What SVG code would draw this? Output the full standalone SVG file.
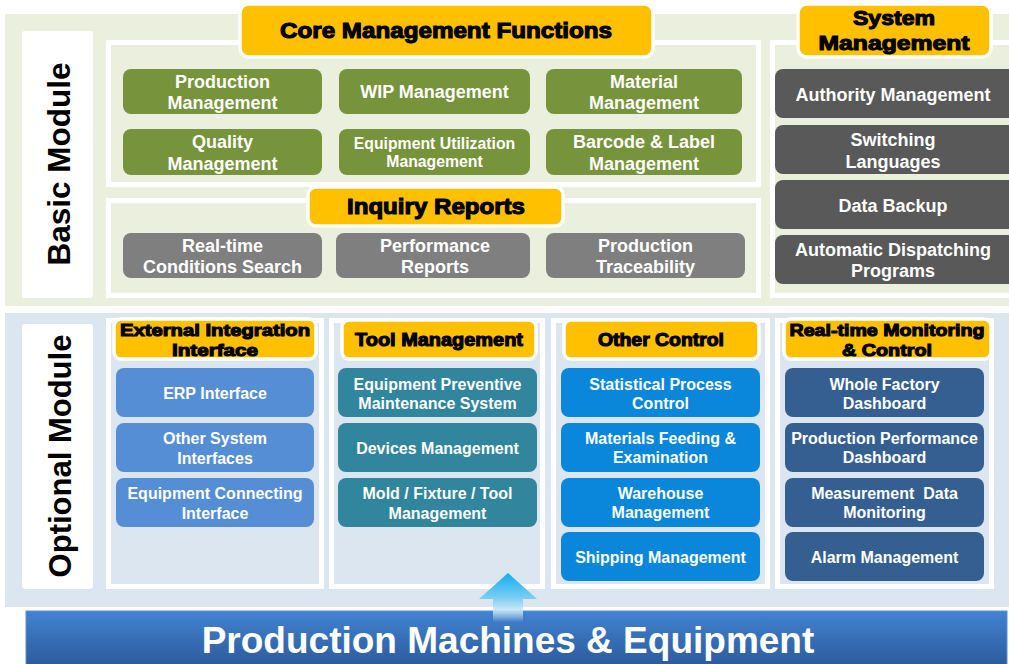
<svg xmlns="http://www.w3.org/2000/svg" width="1009" height="664" viewBox="0 0 1009 664">
<defs>
<linearGradient id="barGrad" x1="0" y1="0" x2="0" y2="1">
<stop offset="0" stop-color="#4283D2"/>
<stop offset="1" stop-color="#2B5A9B"/>
</linearGradient>
<linearGradient id="arrowGrad" x1="0" y1="573" x2="0" y2="622" gradientUnits="userSpaceOnUse">
<stop offset="0" stop-color="#0FB0EE"/>
<stop offset="0.5" stop-color="#7ACCF2"/>
<stop offset="0.8" stop-color="#CFE9F8" stop-opacity="0.8"/>
<stop offset="1" stop-color="#CFE9F8" stop-opacity="0"/>
</linearGradient>
</defs>
<style>
text{font-family:"Liberation Sans",Arial,Helvetica,sans-serif;font-weight:bold;text-anchor:middle}
.lbl{fill:#fff}
.f18{font-size:18px}
.f15{font-size:16px}
.f14{font-size:15.8px}
.hdr{fill:#000;stroke:#000;stroke-width:1.1;paint-order:stroke}
.orange{fill:#FFC000;stroke:#fff;stroke-width:3.5}
.gbox{fill:#77933C}
.grey{fill:#7F7F7F}
.dgrey{fill:#595959}
.c1{fill:#558ED5}
.c2{fill:#31859C}
.c3{fill:#0A87DA}
.c4{fill:#365F91}
.frameG{fill:#EBF0DE;stroke:#fff;stroke-width:5}
.frameB{fill:#DCE6F1;stroke:#fff;stroke-width:5}
.side{fill:#fff}
.rot{font-size:31px;fill:#000}
</style>

<!-- bands -->
<rect x="5" y="14" width="1004" height="292" fill="#EBF0DE"/>
<rect x="5" y="313" width="1004" height="294" fill="#DCE6F1"/>

<g id="basic-label">
<rect class="side" x="22" y="31" width="71" height="267" rx="3"/>
<text class="rot" transform="translate(70,164) rotate(-90)" textLength="203" lengthAdjust="spacingAndGlyphs">Basic Module</text>
</g>
<g id="optional-label">
<rect class="side" x="22" y="324" width="71" height="265" rx="3"/>
<text class="rot" transform="translate(70.5,456) rotate(-90)">Optional Module</text>
</g>

<!-- Core Management Functions -->
<g id="core-frame">
<rect class="frameG" x="108.5" y="42.5" width="650" height="142"/>
</g>
<g id="core-header">
<rect class="orange" x="240" y="4" width="413" height="53" rx="9"/>
<text class="hdr" x="446" y="38" font-size="22" textLength="332" lengthAdjust="spacingAndGlyphs">Core Management Functions</text>
</g>
<g id="production-management">
<rect class="gbox" x="123" y="69" width="199" height="45" rx="8"/>
<text class="lbl f18" x="222.5" y="88">Production</text>
<text class="lbl f18" x="222.5" y="109">Management</text>
</g>
<g id="wip-management">
<rect class="gbox" x="339" y="69" width="191" height="45" rx="8"/>
<text class="lbl f18" x="434.5" y="98">WIP Management</text>
</g>
<g id="material-management">
<rect class="gbox" x="546" y="69" width="196" height="45" rx="8"/>
<text class="lbl f18" x="644" y="88">Material</text>
<text class="lbl f18" x="644" y="109">Management</text>
</g>
<g id="quality-management">
<rect class="gbox" x="123" y="129" width="199" height="46" rx="8"/>
<text class="lbl f18" x="222.5" y="148">Quality</text>
<text class="lbl f18" x="222.5" y="170">Management</text>
</g>
<g id="equipment-utilization">
<rect class="gbox" x="339" y="129" width="191" height="46" rx="8"/>
<text class="lbl f14" x="434.5" y="149">Equipment Utilization</text>
<text class="lbl f14" x="434.5" y="167">Management</text>
</g>
<g id="barcode-label">
<rect class="gbox" x="546" y="129" width="196" height="46" rx="8"/>
<text class="lbl f18" x="644" y="148">Barcode &amp; Label</text>
<text class="lbl f18" x="644" y="170">Management</text>
</g>

<!-- Inquiry Reports -->
<g id="inquiry-frame">
<rect class="frameG" x="108.5" y="200.5" width="650" height="95"/>
</g>
<g id="inquiry-header">
<rect class="orange" x="308" y="187" width="255" height="39" rx="8"/>
<text class="hdr" x="436" y="214" font-size="22" textLength="178" lengthAdjust="spacingAndGlyphs">Inquiry Reports</text>
</g>
<g id="realtime-search">
<rect class="grey" x="123" y="233" width="199" height="45" rx="8"/>
<text class="lbl f18" x="222.5" y="252">Real-time</text>
<text class="lbl f18" x="222.5" y="273">Conditions Search</text>
</g>
<g id="performance-reports">
<rect class="grey" x="336" y="233" width="194" height="45" rx="8"/>
<text class="lbl f18" x="435" y="252">Performance</text>
<text class="lbl f18" x="435" y="273">Reports</text>
</g>
<g id="production-traceability">
<rect class="grey" x="546" y="233" width="199" height="45" rx="8"/>
<text class="lbl f18" x="645.5" y="252">Production</text>
<text class="lbl f18" x="645.5" y="273">Traceability</text>
</g>

<!-- System Management -->
<g id="system-frame">
<rect class="frameG" x="772.5" y="42.5" width="250" height="253"/>
</g>
<g id="system-header">
<rect class="orange" x="798" y="4" width="193" height="53" rx="9"/>
<text class="hdr" x="894" y="25" font-size="20" textLength="82" lengthAdjust="spacingAndGlyphs">System</text>
<text class="hdr" x="894" y="50" font-size="20" textLength="151" lengthAdjust="spacingAndGlyphs">Management</text>
</g>
<g id="authority-management">
<rect class="dgrey" x="775" y="69" width="245" height="49" rx="8"/>
<text class="lbl f18" x="893" y="101">Authority Management</text>
</g>
<g id="switching-languages">
<rect class="dgrey" x="775" y="125" width="245" height="49" rx="8"/>
<text class="lbl f18" x="893" y="146">Switching</text>
<text class="lbl f18" x="893" y="168">Languages</text>
</g>
<g id="data-backup">
<rect class="dgrey" x="775" y="180" width="245" height="49" rx="8"/>
<text class="lbl f18" x="893" y="212">Data Backup</text>
</g>
<g id="auto-dispatching">
<rect class="dgrey" x="775" y="235" width="245" height="49" rx="8"/>
<text class="lbl f18" x="893" y="256">Automatic Dispatching</text>
<text class="lbl f18" x="893" y="277">Programs</text>
</g>

<!-- Optional columns -->
<g id="col1-frame"><rect class="frameB" x="108.5" y="320.5" width="213" height="266"/></g>
<g id="col2-frame"><rect class="frameB" x="331.5" y="320.5" width="211" height="266"/></g>
<g id="col3-frame"><rect class="frameB" x="553.5" y="320.5" width="214" height="266"/></g>
<g id="col4-frame"><rect class="frameB" x="777.5" y="320.5" width="214" height="266"/></g>

<g id="external-header">
<rect class="orange" x="114" y="319" width="202" height="40" rx="7"/>
<text class="hdr" x="215" y="336" font-size="17" textLength="190" lengthAdjust="spacingAndGlyphs">External Integration</text>
<text class="hdr" x="215" y="356" font-size="17" textLength="86" lengthAdjust="spacingAndGlyphs">Interface</text>
</g>
<g id="tool-header">
<rect class="orange" x="342" y="320" width="194" height="39" rx="7"/>
<text class="hdr" x="439" y="346" font-size="18" textLength="168" lengthAdjust="spacingAndGlyphs">Tool Management</text>
</g>
<g id="other-header">
<rect class="orange" x="564" y="320" width="195" height="39" rx="7"/>
<text class="hdr" x="661" y="346" font-size="18" textLength="126" lengthAdjust="spacingAndGlyphs">Other Control</text>
</g>
<g id="monitoring-header">
<rect class="orange" x="784" y="319" width="207" height="40" rx="7"/>
<text class="hdr" x="887" y="336" font-size="17" textLength="195" lengthAdjust="spacingAndGlyphs">Real-time Monitoring</text>
<text class="hdr" x="887" y="356" font-size="17" textLength="90" lengthAdjust="spacingAndGlyphs">&amp; Control</text>
</g>

<g id="erp-interface">
<rect class="c1" x="116" y="368" width="198" height="49" rx="8"/>
<text class="lbl f15" x="215" y="399">ERP Interface</text>
</g>
<g id="other-system-interfaces">
<rect class="c1" x="116" y="423" width="198" height="49" rx="8"/>
<text class="lbl f15" x="215" y="444">Other System</text>
<text class="lbl f15" x="215" y="464">Interfaces</text>
</g>
<g id="equipment-connecting">
<rect class="c1" x="116" y="478" width="198" height="49" rx="8"/>
<text class="lbl f15" x="215" y="499">Equipment Connecting</text>
<text class="lbl f15" x="215" y="519">Interface</text>
</g>

<g id="preventive-maintenance">
<rect class="c2" x="338" y="368" width="199" height="49" rx="8"/>
<text class="lbl f15" x="437.5" y="390">Equipment Preventive</text>
<text class="lbl f15" x="437.5" y="409">Maintenance System</text>
</g>
<g id="devices-management">
<rect class="c2" x="338" y="423" width="199" height="49" rx="8"/>
<text class="lbl f15" x="437.5" y="454">Devices Management</text>
</g>
<g id="mold-fixture-tool">
<rect class="c2" x="338" y="478" width="199" height="49" rx="8"/>
<text class="lbl f15" x="437.5" y="499">Mold / Fixture / Tool</text>
<text class="lbl f15" x="437.5" y="519">Management</text>
</g>

<g id="spc">
<rect class="c3" x="561" y="368" width="199" height="49" rx="8"/>
<text class="lbl f15" x="660.5" y="390">Statistical Process</text>
<text class="lbl f15" x="660.5" y="409">Control</text>
</g>
<g id="materials-feeding">
<rect class="c3" x="561" y="423" width="199" height="49" rx="8"/>
<text class="lbl f15" x="660.5" y="444">Materials Feeding &amp;</text>
<text class="lbl f15" x="660.5" y="463">Examination</text>
</g>
<g id="warehouse-management">
<rect class="c3" x="561" y="478" width="199" height="49" rx="8"/>
<text class="lbl f15" x="660.5" y="499">Warehouse</text>
<text class="lbl f15" x="660.5" y="518">Management</text>
</g>
<g id="shipping-management">
<rect class="c3" x="561" y="532" width="199" height="49" rx="8"/>
<text class="lbl f15" x="660.5" y="563">Shipping Management</text>
</g>

<g id="whole-factory-dashboard">
<rect class="c4" x="785" y="368" width="199" height="49" rx="8"/>
<text class="lbl f15" x="884.5" y="390">Whole Factory</text>
<text class="lbl f15" x="884.5" y="409">Dashboard</text>
</g>
<g id="production-performance-dashboard">
<rect class="c4" x="785" y="423" width="199" height="49" rx="8"/>
<text class="lbl f15" x="884.5" y="444">Production Performance</text>
<text class="lbl f15" x="884.5" y="463">Dashboard</text>
</g>
<g id="measurement-data-monitoring">
<rect class="c4" x="785" y="478" width="199" height="49" rx="8"/>
<text class="lbl f15" x="884.5" y="499" style="white-space:pre">Measurement  Data</text>
<text class="lbl f15" x="884.5" y="518">Monitoring</text>
</g>
<g id="alarm-management">
<rect class="c4" x="785" y="532" width="199" height="49" rx="8"/>
<text class="lbl f15" x="884.5" y="563">Alarm Management</text>
</g>

<!-- bottom bar -->
<g id="production-machines">
<rect x="26" y="611" width="981" height="56" fill="url(#barGrad)" stroke="#5B8FD0" stroke-width="1"/>
<text x="508" y="653" font-size="37" fill="#fff">Production Machines &amp; Equipment</text>
</g>

<g id="connectors">
<polygon points="508,573 537,599 523,599 523,622 493,622 493,599 479,599" fill="url(#arrowGrad)"/>
</g>
</svg>
